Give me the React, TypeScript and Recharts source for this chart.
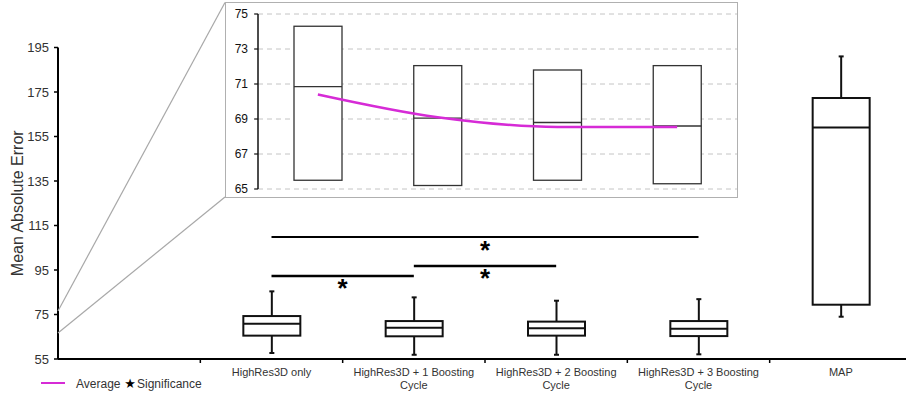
import React from "react";
import {
  ComposedChart,
  Bar,
  Line,
  XAxis,
  YAxis,
  CartesianGrid,
  ReferenceLine,
} from "recharts";

const FONT = "'Liberation Sans', Arial, sans-serif";
const MAGENTA = "#d62bd6";

// first slot is an empty category, the plot starts one band before the boxes
const CATEGORIES = [
  "",
  "HighRes3D only",
  "HighRes3D + 1 Boosting Cycle",
  "HighRes3D + 2 Boosting Cycle",
  "HighRes3D + 3 Boosting Cycle",
  "MAP",
];
const TICK_LABELS = [
  [],
  ["HighRes3D only"],
  ["HighRes3D + 1 Boosting", "Cycle"],
  ["HighRes3D + 2 Boosting", "Cycle"],
  ["HighRes3D + 3 Boosting", "Cycle"],
  ["MAP"],
];

const WHISKER_MIN = [null, 57.7, 56.9, 56.9, 57.1, 74.0];
const Q1 = [null, 65.5, 65.2, 65.5, 65.3, 79.4];
const MEDIAN = [null, 70.85, 69.05, 68.8, 68.6, 159.0];
const Q3 = [null, 74.3, 72.05, 71.8, 72.05, 172.3];
const WHISKER_MAX = [null, 85.4, 82.7, 81.2, 81.9, 191.0];

// averages shown in the zoomed inset (HighRes3D groups only)
const AVERAGE = [70.4, 69.1, 68.55, 68.55];

const Y_TICKS = [55, 75, 95, 115, 135, 155, 175, 195];
const INSET_TICKS = [65, 67, 69, 71, 73, 75];

// significance brackets
const SIG_FROM = ["HighRes3D only", "HighRes3D only", "HighRes3D + 1 Boosting Cycle"];
const SIG_TO = [
  "HighRes3D + 3 Boosting Cycle",
  "HighRes3D + 1 Boosting Cycle",
  "HighRes3D + 2 Boosting Cycle",
];
const SIG_LEVEL = [109.8, 92.3, 96.8];
const SIG_WIDTH = [2, 2.5, 2.5];

const CHART_W = 912;
const CHART_H = 396;
const Y_AXIS_W = 58;
const BAND = (CHART_W - Y_AXIS_W) / CATEGORIES.length;

const mainData = CATEGORIES.map((name, i) => ({
  name,
  min: WHISKER_MIN[i],
  q1: Q1[i],
  median: MEDIAN[i],
  q3: Q3[i],
  max: WHISKER_MAX[i],
}));

const insetData = mainData.slice(1, 5).map((d, i) => ({ ...d, avg: AVERAGE[i] }));

function MainBox(props: any) {
  const { x, y, width, height, payload } = props;
  if (payload.min == null) return null;
  const top = Math.min(y, y + height);
  const h = Math.abs(height);
  const ppu = h / (payload.max - payload.min);
  const py = (v: number) => top + (payload.max - v) * ppu;
  const cx = x + width / 2;
  const s = { stroke: "#111", strokeWidth: 2 };
  return (
    <g>
      <line x1={cx} x2={cx} y1={py(payload.max)} y2={py(payload.q3)} {...s} />
      <line x1={cx} x2={cx} y1={py(payload.q1)} y2={py(payload.min)} {...s} />
      <line x1={cx - 2.5} x2={cx + 2.5} y1={py(payload.max)} y2={py(payload.max)} {...s} />
      <line x1={cx - 2.5} x2={cx + 2.5} y1={py(payload.min)} y2={py(payload.min)} {...s} />
      <rect
        x={x}
        y={py(payload.q3)}
        width={width}
        height={py(payload.q1) - py(payload.q3)}
        fill="#fff"
        {...s}
      />
      <line x1={x} x2={x + width} y1={py(payload.median)} y2={py(payload.median)} {...s} />
    </g>
  );
}

function InsetBox(props: any) {
  const { x, y, width, height, payload } = props;
  const top = Math.min(y, y + height);
  const h = Math.abs(height);
  const ppu = h / (payload.q3 - payload.q1);
  const my = top + (payload.q3 - payload.median) * ppu;
  return (
    <g>
      <rect x={x} y={top} width={width} height={h} fill="#fff" stroke="#333" strokeWidth={1.3} />
      <line x1={x} x2={x + width} y1={my} y2={my} stroke="#333" strokeWidth={1.3} />
    </g>
  );
}

function CategoryTick(props: any) {
  const { x, y, index } = props;
  const lines = TICK_LABELS[index] ?? [];
  return (
    <g>
      {index > 0 && (
        <line x1={x - BAND / 2} x2={x - BAND / 2} y1={y} y2={y + 4} stroke="#000" strokeWidth={1.5} />
      )}
      {lines.map((t, k) => (
        <text
          key={k}
          x={x}
          y={y + 17 + k * 13}
          textAnchor="middle"
          fontSize={11}
          fill="#333"
          fontFamily={FONT}
        >
          {t}
        </text>
      ))}
    </g>
  );
}

export default function App() {
  return (
    <div
      style={{
        position: "absolute",
        left: 0,
        top: 0,
        width: 906,
        height: 396,
        overflow: "hidden",
        background: "#fff",
        fontFamily: FONT,
      }}
    >
      <ComposedChart
        width={CHART_W}
        height={CHART_H}
        data={mainData}
        margin={{ top: 47.5, right: 0, bottom: 0, left: 0 }}
      >
        <XAxis
          dataKey="name"
          interval={0}
          height={37}
          tickSize={0}
          tickMargin={0}
          tickLine={false}
          axisLine={{ stroke: "#000", strokeWidth: 2 }}
          tick={<CategoryTick />}
        />
        <YAxis
          width={Y_AXIS_W}
          domain={[55, 195]}
          ticks={Y_TICKS}
          tickSize={4}
          tickMargin={5}
          axisLine={{ stroke: "#000", strokeWidth: 2 }}
          tickLine={{ stroke: "#000", strokeWidth: 1.5 }}
          tick={{ fontSize: 13, fill: "#333", fontFamily: FONT }}
          label={{
            value: "Mean Absolute Error",
            angle: -90,
            position: "insideLeft",
            offset: 17,
            fontSize: 16,
            fill: "#333",
            style: { textAnchor: "middle", fontFamily: FONT },
          }}
        />
        <Bar
          dataKey={(d: any) => (d.min == null ? null : [d.min, d.max])}
          barSize={57}
          shape={<MainBox />}
          isAnimationActive={false}
        />
        {SIG_LEVEL.map((lvl, i) => (
          <ReferenceLine
            key={i}
            segment={[
              { x: SIG_FROM[i], y: lvl },
              { x: SIG_TO[i], y: lvl },
            ]}
            stroke="#000"
            strokeWidth={SIG_WIDTH[i]}
            label={{
              value: "*",
              position: "bottom",
              offset: 3,
              fontSize: 26,
              fontWeight: "bold",
              fill: "#000",
              fontFamily: FONT,
            }}
          />
        ))}
      </ComposedChart>

      {/* connector lines from the main axis to the zoomed inset */}
      <svg
        width={906}
        height={396}
        style={{ position: "absolute", left: 0, top: 0, pointerEvents: "none" }}
      >
        <line x1={58} y1={311} x2={225} y2={2.5} stroke="#a8a8a8" strokeWidth={1.2} />
        <line x1={58} y1={333} x2={225} y2={197} stroke="#a8a8a8" strokeWidth={1.2} />
      </svg>

      {/* zoomed inset */}
      <div
        style={{
          position: "absolute",
          left: 225,
          top: 2,
          width: 513,
          height: 196,
          boxSizing: "border-box",
          border: "1px solid #b0b0b0",
          background: "#fff",
        }}
      >
        <ComposedChart
          width={511}
          height={194}
          data={insetData}
          margin={{ top: 11, right: 0, bottom: 8, left: 0 }}
        >
          <CartesianGrid vertical={false} stroke="#c4c4c4" strokeDasharray="5 4" />
          <XAxis dataKey="name" hide />
          <YAxis
            width={32}
            domain={[65, 75]}
            ticks={INSET_TICKS}
            allowDataOverflow
            tickSize={4}
            tickMargin={6}
            axisLine={{ stroke: "#111", strokeWidth: 1.5 }}
            tickLine={{ stroke: "#111", strokeWidth: 1.2 }}
            tick={{ fontSize: 12, fill: "#111", fontFamily: FONT }}
          />
          <Bar
            dataKey={(d: any) => [d.q1, d.q3]}
            barSize={48}
            shape={<InsetBox />}
            isAnimationActive={false}
          />
          <Line
            dataKey="avg"
            type="monotone"
            stroke={MAGENTA}
            strokeWidth={2.5}
            dot={false}
            activeDot={false}
            isAnimationActive={false}
          />
        </ComposedChart>
      </div>

      {/* legend */}
      <svg
        width={220}
        height={22}
        style={{ position: "absolute", left: 30, top: 372, pointerEvents: "none" }}
      >
        <line x1={11} x2={35} y1={11} y2={11} stroke={MAGENTA} strokeWidth={2} />
        <text x={46} y={15.5} fontSize={12} fill="#333" fontFamily={FONT}>
          Average
        </text>
        <text x={100} y={16} fontSize={13} fill="#000" textAnchor="middle" fontFamily="'DejaVu Sans', sans-serif">
          ★
        </text>
        <text x={107} y={15.5} fontSize={12} fill="#333" fontFamily={FONT}>
          Significance
        </text>
      </svg>
    </div>
  );
}
